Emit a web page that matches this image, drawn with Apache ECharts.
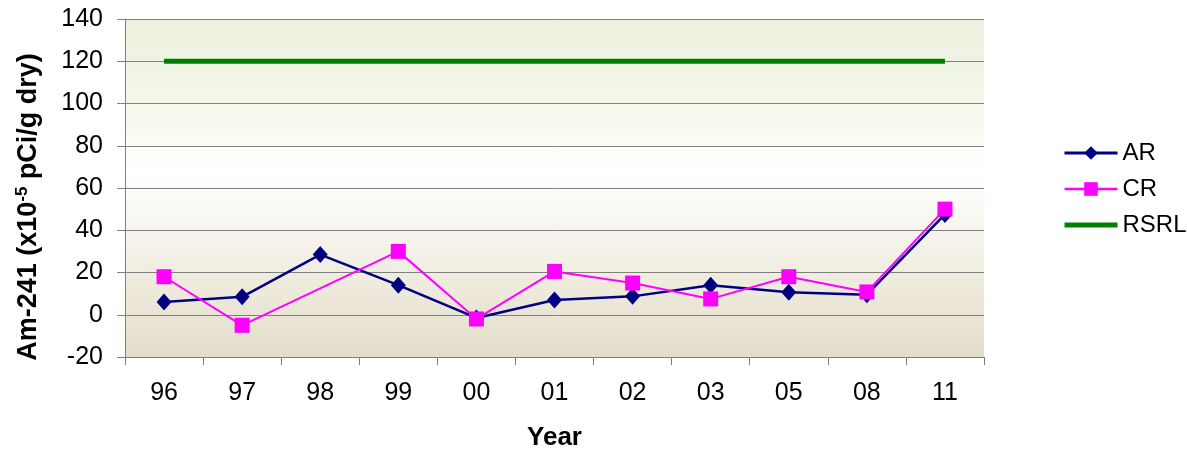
<!DOCTYPE html>
<html><head><meta charset="utf-8">
<script src="https://cdn.jsdelivr.net/npm/echarts@6/dist/echarts.min.js"></script>
<style>html,body{margin:0;padding:0;background:#fff}#c{width:1187px;height:453px}</style>
</head><body><div id="c"></div>
<script>
const categories = ['96','97','98','99','00','01','02','03','05','08','11'];
const arValues = [6, 8.5, 28.5, 14, -1.5, 7, 8.7, 14, 10.7, 9.5, 47.5];
const crValues = [18, -5, null, 30, -2, 20.5, 15, 7.5, 18, 10.8, 50];
const rsrlValues = [120, 120, 120, 120, 120, 120, 120, 120, 120, 120, 120];
const yTicks = {min: -20, max: 140, interval: 20};

const chart = echarts.init(document.getElementById('c'));
const font = 'Liberation Sans, Arial, sans-serif';
chart.setOption({
  animation: false,
  backgroundColor: '#fff',
  grid: {
    left: 125, right: 203, top: 19, bottom: 96, show: true, borderWidth: 0,
    containLabel: false, outerBoundsMode: 'none',
    backgroundColor: new echarts.graphic.LinearGradient(0, 0, 0, 1, [
      {offset: 0, color: '#ebf0de'},
      {offset: 0.25, color: '#f4f7ea'},
      {offset: 0.45, color: '#ffffff'},
      {offset: 0.6, color: '#f8f6ef'},
      {offset: 1, color: '#e3ddc9'}
    ])
  },
  legend: {
    orient: 'vertical', left: 1057, top: 136, itemWidth: 53, itemHeight: 17, itemGap: 12,
    textStyle: {fontFamily: font, fontSize: 24, color: '#000'},
    data: [
      {name: 'AR', lineStyle: {width: 3}},
      {name: 'CR', lineStyle: {width: 2.5}},
      {name: 'RSRL', itemStyle: {opacity: 0}, lineStyle: {width: 5}}
    ]
  },
  xAxis: {
    type: 'category', data: categories, boundaryGap: true,
    name: 'Year', nameLocation: 'middle', nameGap: 68,
    nameTextStyle: {fontFamily: font, fontSize: 26, fontWeight: 'bold', color: '#000'},
    axisLine: {onZero: false, lineStyle: {color: '#808080', width: 1}},
    axisTick: {show: true, length: 8, lineStyle: {color: '#808080'}},
    axisLabel: {fontFamily: font, fontSize: 25, color: '#000', margin: 24},
    splitLine: {show: false}
  },
  yAxis: {
    type: 'value', min: yTicks.min, max: yTicks.max, interval: yTicks.interval,
    name: '{a|Am-241 (x10}{s|-5}{a| pCi/g dry)}', nameLocation: 'middle', nameGap: 82, nameRotate: 90,
    nameTextStyle: {
      padding: [0, 38, 0, 0],
      rich: {
        a: {fontFamily: font, fontSize: 27, fontWeight: 'bold', color: '#000'},
        s: {fontFamily: font, fontSize: 17, fontWeight: 'bold', color: '#000', verticalAlign: 'top', padding: [0, 0, 12, 0]}
      }
    },
    axisLine: {show: true, lineStyle: {color: '#808080', width: 1}},
    axisTick: {show: true, length: 8, lineStyle: {color: '#808080'}},
    axisLabel: {fontFamily: font, fontSize: 25, color: '#000', margin: 22},
    splitLine: {show: true, lineStyle: {color: '#808080', width: 1}}
  },
  series: [
    {name: 'AR', type: 'line', data: arValues, symbol: 'diamond', symbolSize: [15, 17],
     itemStyle: {color: '#000080'}, lineStyle: {color: '#000080', width: 2.5}, z: 3},
    {name: 'CR', type: 'line', data: crValues, connectNulls: true, symbol: 'rect', symbolSize: 15,
     itemStyle: {color: '#ff00ff'}, lineStyle: {color: '#ff00ff', width: 2}, z: 4},
    {name: 'RSRL', type: 'line', data: rsrlValues, symbol: 'none', showSymbol: false,
     itemStyle: {color: '#008000'}, lineStyle: {color: '#008000', width: 5}, z: 2}
  ]
});
</script></body></html>
